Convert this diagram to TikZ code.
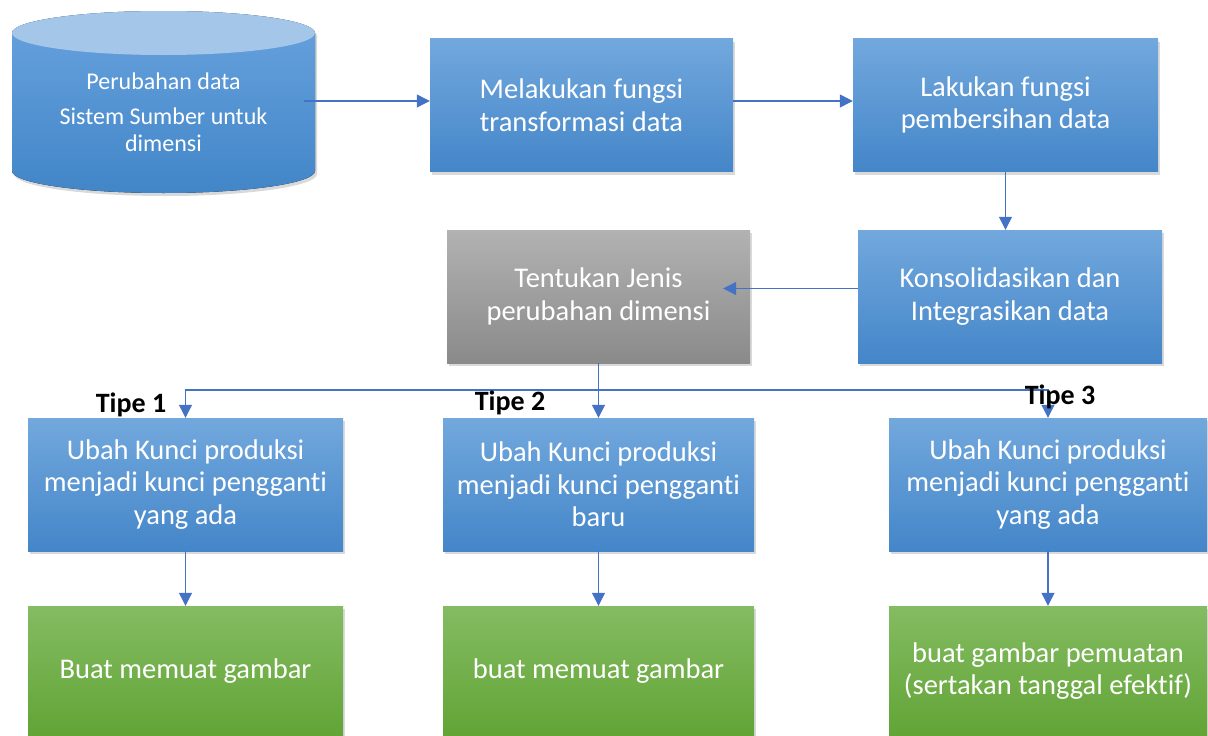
\documentclass[tikz,border=0pt]{standalone}
\usepackage{fontspec}
\setmainfont{Carlito}[Ligatures={NoCommon,NoContextual},Contextuals=NoAlternate]
\usetikzlibrary{arrows.meta,shadows,positioning}
\definecolor{boxtop}{RGB}{114,168,221}
\definecolor{boxbot}{RGB}{68,134,201}
\definecolor{cyltop}{RGB}{104,162,222}
\definecolor{cylbot}{RGB}{66,134,200}
\definecolor{cylend}{RGB}{164,198,233}
\definecolor{graytop}{RGB}{178,178,178}
\definecolor{graybot}{RGB}{138,138,138}
\definecolor{greentop}{RGB}{132,188,98}
\definecolor{greenbot}{RGB}{98,164,54}
\definecolor{arrblue}{RGB}{68,114,196}
\begin{document}
\begin{tikzpicture}[x=1pt,y=1pt, every node/.style={font=\fontsize{28.5}{32.5}\selectfont},
  box/.style={minimum height=133pt,align=center,text=white,inner sep=0pt,
    drop shadow={shadow xshift=2pt,shadow yshift=-3pt,opacity=0.3}},
  bluebox/.style={box,top color=boxtop,bottom color=boxbot},
  graybox/.style={box,top color=graytop,bottom color=graybot},
  greenbox/.style={box,minimum height=130pt,top color=greentop,bottom color=greenbot},
  tipe/.style={inner sep=0pt,font=\bfseries\fontsize{28}{32}\selectfont},
  arr/.style={-{Triangle[length=13pt,width=13pt]},line width=1.2pt,arrblue}]
\useasboundingbox (0,0) rectangle (1208,-736);
% source system (cylinder)
\fill[top color=cyltop,bottom color=cylbot,drop shadow={shadow xshift=2pt,shadow yshift=-3pt,opacity=0.3}]
  (12,-33) -- (12,-171) arc[start angle=180,end angle=360,x radius=151.5,y radius=22]
  -- (315,-33) arc[start angle=0,end angle=180,x radius=151.5,y radius=22] -- cycle;
\fill[cylend] (163.5,-33) ellipse[x radius=151.5,y radius=22];
\node[text=white,align=center,minimum width=281pt,inner sep=0pt,font=\fontsize{24}{26.5}\selectfont] (src) at (163.5,-112)
  {Perubahan data\\[9pt]Sistem Sumber untuk\\dimensi};
% top rows
\node[bluebox,minimum width=303pt] (trans) at (581.5,-105) {Melakukan fungsi\\transformasi data};
\node[bluebox,minimum width=305pt] (clean) at (1005.5,-105) {Lakukan fungsi\\pembersihan data};
\node[bluebox,minimum width=304pt] (integ) at (1010,-296.5) {Konsolidasikan dan\\Integrasikan data};
\node[graybox,minimum width=303pt] (jenis) at (598.5,-296.5) {Tentukan Jenis\\perubahan dimensi};
% three types
\node[bluebox,minimum width=315pt] (t1) at (185.5,-484.5) {Ubah Kunci produksi\\menjadi kunci pengganti\\yang ada};
\node[bluebox,minimum width=311pt] (t2) at (598.5,-484.5) {Ubah Kunci produksi\\menjadi kunci pengganti\\baru};
\node[bluebox,minimum width=318pt] (t3) at (1048,-484.5) {Ubah Kunci produksi\\menjadi kunci pengganti\\yang ada};
\node[greenbox,minimum width=315pt] (load1) at (185.5,-671) {Buat memuat gambar};
\node[greenbox,minimum width=311pt] (load2) at (598.5,-671) {buat memuat gambar};
\node[greenbox,minimum width=318pt] (load3) at (1048,-671) {buat gambar pemuatan\\(sertakan tanggal efektif)};
\coordinate (split) at (598.5,-390);
% connectors
\draw[arr] ([yshift=4pt]src.east |- trans.west) -- ([yshift=4pt]trans.west);
\draw[arr] ([yshift=4pt]trans.east) -- ([yshift=4pt]clean.west);
\draw[arr] (clean.south) -- (clean.south |- integ.north);
\draw[arr,shorten >=-27pt] ([yshift=8pt]integ.west) -- ([yshift=8pt]jenis.east);
\draw[arr] (jenis) -- (t2);
\draw[arr] (split) -| (t1.north);
\draw[arr] (split) -| (t3.north);
\draw[arr] (t1) -- (load1);
\draw[arr] (t2) -- (load2);
\draw[arr] (t3) -- (load3);
\node[tipe] (tipea) at (131,-405) {Tipe 1};
\node[tipe] (tipeb) at (510,-403) {Tipe 2};
\node[tipe] (tipec) at (1060,-397) {Tipe 3};
\end{tikzpicture}
\end{document}
